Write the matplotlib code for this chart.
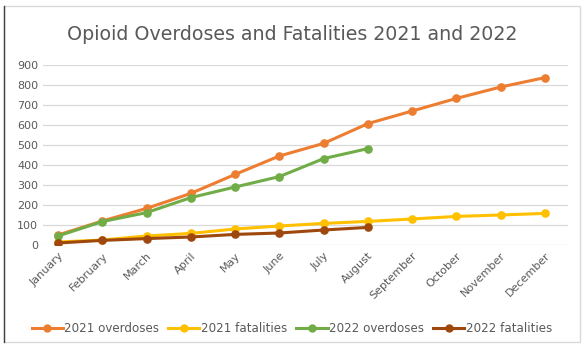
import matplotlib.pyplot as plt
from matplotlib.patches import Rectangle
from matplotlib.lines import Line2D

months = ["January", "February", "March", "April", "May", "June", "July",
          "August", "September", "October", "November", "December"]

overdoses_2021 = [50, 120, 183, 258, 353, 445, 508, 607, 670, 733, 790, 837]
fatalities_2021 = [15, 25, 45, 58, 80, 95, 108, 118, 130, 143, 150, 158]
overdoses_2022 = [45, 117, 162, 237, 290, 342, 432, 482]
fatalities_2022 = [10, 23, 32, 40, 53, 60, 75, 88]

series = [
    ("2021 overdoses", overdoses_2021, "#ED7D31"),
    ("2021 fatalities", fatalities_2021, "#FFC000"),
    ("2022 overdoses", overdoses_2022, "#70AD47"),
    ("2022 fatalities", fatalities_2022, "#9E480E"),
]

fig = plt.figure(figsize=(5.84, 3.49), dpi=100)
ax = fig.add_axes([43 / 584, 1 - 245 / 349, (568 - 43) / 584, 180 / 349])

for name, vals, col in series:
    ax.plot(range(len(vals)), vals, color=col, lw=2.2, marker="o", ms=5.2,
            label=name, solid_capstyle="round")

ax.set_xlim(-0.34, 11.52)
ax.set_ylim(0, 900)
ax.set_yticks(range(0, 901, 100))
ax.set_xticks(range(12))
ax.set_xticklabels(months, rotation=45, ha="right", rotation_mode="anchor")
ax.tick_params(axis="both", length=0, labelsize=8, colors="#595959")
ax.tick_params(axis="x", pad=4)
ax.grid(axis="y", color="#d9d9d9", lw=0.9)
ax.set_axisbelow(True)
for s in ax.spines.values():
    s.set_visible(False)

fig.text(0.5, 1 - 35 / 349, "Opioid Overdoses and Fatalities 2021 and 2022",
         ha="center", va="center", fontsize=13.7, color="#595959")

handles = [Line2D([], [], color=c, lw=2.2, marker="o", ms=5) for _, _, c in series]
fig.legend(handles, [n for n, _, _ in series], loc="center",
           bbox_to_anchor=(0.5, 1 - 329 / 349), ncol=4, frameon=False,
           fontsize=8.6, labelcolor="#595959", handlelength=2.6,
           handletextpad=0.15, columnspacing=0.75)

# chart border
fig.add_artist(Rectangle((4 / 584, 1 - 342 / 349), 576 / 584, 336 / 349,
                         transform=fig.transFigure, fill=False,
                         edgecolor="#d9d9d9", lw=1))
fig.add_artist(Line2D([4 / 584, 4 / 584], [1 - 342 / 349, 1 - 6 / 349],
                      transform=fig.transFigure, color="#404040", lw=1))

fig.savefig("out.png", dpi=100)
